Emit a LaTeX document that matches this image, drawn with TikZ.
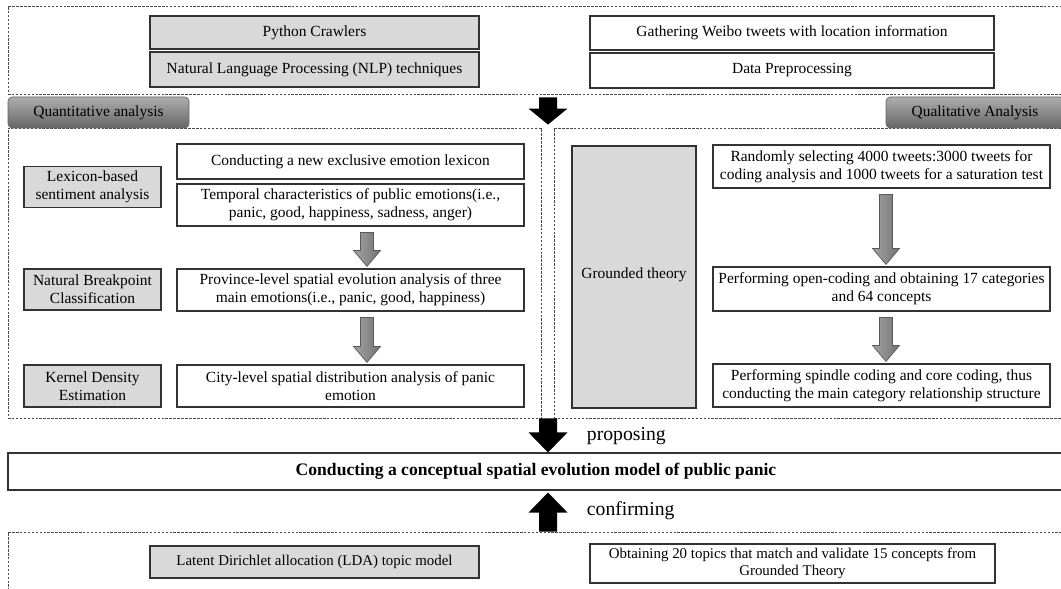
\documentclass[tikz,border=0pt]{standalone}
\usepackage{fontspec}
\setmainfont{Liberation Serif}
\usepackage{tikz}
\usetikzlibrary{positioning,calc}

\begin{document}
\begin{tikzpicture}[x=0.025cm,y=-0.025cm,font=\fontsize{11}{12.6}\selectfont,
  wh/.style 2 args={minimum width=#1*0.025cm,minimum height=#2*0.025cm},
  frame/.style={draw=black!70,line width=0.6pt,dash pattern=on 1.8pt off 1pt,inner sep=0pt},
  box/.style={draw=black!80,line width=0.8pt,fill=white,align=center,inner sep=1pt},
  graybox/.style={box,fill=gray!30},
  tab/.style={draw=black!60,line width=0.5pt,rounded corners=3pt,top color=black!32,bottom color=black!60,inner sep=0pt},
  grayarrow/.style={draw=black!65,line width=0.5pt,left color=black!36,right color=black!55},
  label/.style={font=\fontsize{14}{16}\selectfont,anchor=west}]
\clip (0,0) rectangle (1061,589);
% ---------------- data collection ----------------
\node[frame,wh={1056}{88}] (datafrm) at (536,50) {};
\node[graybox,wh={329}{33}] (crawl) at (314.5,32.5) {Python Crawlers};
\node[graybox,wh={329}{35}] (nlp) at (314.5,69.5) {Natural Language Processing (NLP) techniques};
\node[box,wh={404}{34}] (weibo) at (792,33) {Gathering Weibo tweets with location information};
\node[box,wh={404}{35}] (prep) at (792,70.5) {Data Preprocessing};
% ---------------- two analysis panels ----------------
\node[frame,wh={533}{290}] (quantfrm) at (274.5,273) {};
\node[frame,wh={510}{290}] (qualfrm) at (809,273) {};
\node[tab,wh={181}{31}] (quanttab) at (98.5,112.5) {Quantitative analysis};
\node[tab,wh={178}{31}] (qualtab) at (975,112.5) {Qualitative Analysis};
% left panel
\node[graybox,wh={137}{41}] (lex) at (92.5,187) {Lexicon-based\\sentiment analysis};
\node[box,wh={347}{35}] (lexnew) at (350.5,161.5) {Conducting a new exclusive emotion lexicon};
\node[box,wh={347}{42}] (temporal) at (350.5,205) {Temporal characteristics of public emotions(i.e.,\\panic, good, happiness, sadness, anger)};
\node[graybox,wh={137}{41}] (natural) at (92.5,289.5) {Natural Breakpoint\\Classification};
\node[box,wh={347}{42}] (province) at (350.5,290) {Province-level spatial evolution analysis of three\\main emotions(i.e., panic, good, happiness)};
\node[graybox,wh={137}{42}] (kernel) at (92.5,386) {Kernel Density\\Estimation};
\node[box,wh={347}{42}] (city) at (350.5,386) {City-level spatial distribution analysis of panic\\emotion};
% right panel
\node[graybox,wh={124}{262}] (grounded) at (634,277) {\raisebox{5pt}{Grounded theory}};
\node[box,wh={337}{43}] (random) at (881.5,166.5) {Randomly selecting 4000 tweets:3000 tweets for\\coding analysis and 1000 tweets for a saturation test};
\node[box,wh={337}{44}] (opencode) at (881.5,289) {Performing open-coding and obtaining 17 categories\\and 64 concepts};
\node[box,wh={337}{43}] (spindle) at (881.5,385.5) {Performing spindle coding and core coding, thus\\conducting the main category relationship structure};
\foreach \a/\b/\dx in {temporal/province/16.5,province/city/16.5,random/opencode/4.5,opencode/spindle/4.5}{
  \coordinate (s) at ($(\a.south)+(\dx,6)$);
  \coordinate (t) at ($(\b.north)+(\dx,-2)$);
  \path[grayarrow] ($(s)+(-6.5,0)$) -- ($(s)+(6.5,0)$) -- ($(t)+(6.5,-16)$) -- ($(t)+(13.5,-16)$) -- (t)
    -- ($(t)+(-13.5,-16)$) -- ($(t)+(-6.5,-16)$) -- cycle;
}
% ---------------- model and validation ----------------
\node[box,wh={1056}{37},font=\bfseries\fontsize{12.5}{14}\selectfont] (concept) at (536,471.5) {Conducting a conceptual spatial evolution model of public panic};
\node[frame,wh={1056}{68}] (ldafrm) at (536,566) {};
\node[graybox,wh={329}{32},font=\fontsize{10.6}{12}\selectfont] (lda) at (314.5,562) {Latent Dirichlet allocation (LDA) topic model};
\node[box,wh={405}{39},font=\fontsize{10.6}{12}\selectfont] (obtain) at (792.5,563.5) {Obtaining 20 topics that match and validate 15 concepts from\\Grounded Theory};
% black arrows
\coordinate (ax) at (548,0);
\coordinate (s1) at ($(ax |- datafrm.south)+(0,3)$);
\coordinate (t1) at ($(ax |- quantfrm.north)+(0,-3)$);
\coordinate (s2) at (ax |- quantfrm.south);
\coordinate (t2) at (ax |- concept.north);
\coordinate (s3) at (ax |- ldafrm.north);
\coordinate (t3) at ($(ax |- concept.south)+(0,2)$);
\foreach \k/\h in {1/-16,2/-20,3/20}
  \fill[black] ($(s\k)+(-9,0)$) -- ($(s\k)+(9,0)$) -- ($(t\k)+(9,\h)$) -- ($(t\k)+(19.5,\h)$) -- (t\k)
    -- ($(t\k)+(-19.5,\h)$) -- ($(t\k)+(-9,\h)$) -- cycle;
\node[label] (propose) at (582,436) {proposing};
\node[label] (confirm) at (582,511) {confirming};
\end{tikzpicture}
\end{document}
